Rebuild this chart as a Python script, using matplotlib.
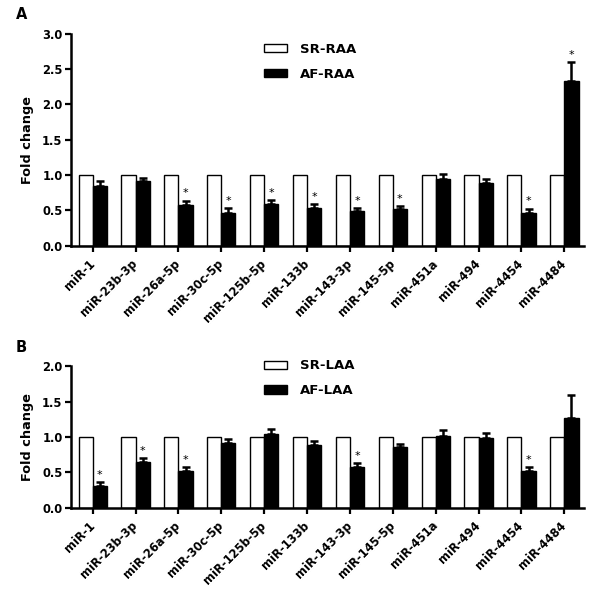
import numpy as np
import matplotlib
matplotlib.use('Agg')
import matplotlib.pyplot as plt

plt.rcParams['font.family'] = ['DejaVu Sans']
plt.rcParams['font.weight'] = 'bold'

# miRNA names shared by both panels
mirnas = ['miR-1', 'miR-23b-3p', 'miR-26a-5p', 'miR-30c-5p', 'miR-125b-5p',
          'miR-133b', 'miR-143-3p', 'miR-145-5p', 'miR-451a', 'miR-494',
          'miR-4454', 'miR-4484']

# Panel A: right atrial appendage
sr_raa = [1.0] * 12
af_raa = [0.85, 0.915, 0.575, 0.46, 0.585, 0.54, 0.49, 0.515, 0.945, 0.885, 0.465, 2.335]
af_raa_err = [0.06, 0.05, 0.065, 0.07, 0.06, 0.047, 0.048, 0.052, 0.07, 0.057, 0.062, 0.26]
sig_raa = [2, 3, 4, 5, 6, 7, 10, 11]

# Panel B: left atrial appendage
sr_laa = [1.0] * 12
af_laa = [0.303, 0.64, 0.512, 0.915, 1.038, 0.886, 0.569, 0.863, 1.014, 0.981, 0.521, 1.265]
af_laa_err = [0.052, 0.057, 0.057, 0.061, 0.076, 0.062, 0.061, 0.042, 0.081, 0.076, 0.052, 0.323]
sig_laa = [0, 1, 2, 6, 10]

x = np.arange(len(mirnas))
w = 0.33


def draw_panel(ax, ctrl, af, err, sig, labels, ymax, leg_y):
    ax.bar(x - w / 2, ctrl, w, color='white', edgecolor='black', linewidth=1.0, label=labels[0])
    ax.bar(x + w / 2, af, w, color='black', edgecolor='black', linewidth=1.0, label=labels[1])
    ax.errorbar(x + w / 2, af, yerr=[np.zeros(len(err)), err], fmt='none',
                ecolor='black', elinewidth=1.8, capsize=2.8, capthick=1.8)
    for i in sig:
        ax.annotate('*', (x[i] + w / 2, af[i] + err[i]), xytext=(0, 1.5),
                    textcoords='offset points', ha='center', va='bottom',
                    fontsize=8, fontweight='normal')
    ax.set_xlim(-0.51, 11.46)
    ax.set_ylim(0, ymax)
    ax.set_yticks(np.arange(0, ymax + 0.01, 0.5))
    ax.yaxis.set_major_formatter(plt.FormatStrFormatter('%.1f'))
    ax.set_xticks(x)
    ax.set_xticklabels(mirnas, rotation=45, ha='right', va='center',
                       rotation_mode='anchor', fontsize=8.3)
    ax.spines['top'].set_visible(False)
    ax.spines['right'].set_visible(False)
    ax.spines['left'].set_linewidth(1.8)
    ax.spines['bottom'].set_linewidth(1.8)
    ax.tick_params(axis='y', width=1.6, length=4, labelsize=8.3, pad=2)
    ax.tick_params(axis='x', width=1.6, length=4.5, pad=7)
    ax.set_ylabel('Fold change', fontsize=9.3, fontweight='bold', labelpad=6)
    ax.legend(frameon=False, fontsize=9.5, handlelength=1.75, handleheight=0.6,
              handletextpad=1.0, labelspacing=0.9, borderpad=0, borderaxespad=0,
              loc='upper left', bbox_to_anchor=(0.3766, leg_y))


fig = plt.figure(figsize=(6, 5.98), dpi=100)
ax_a = fig.add_axes([0.118, 0.589, 0.8555, 0.3545])
ax_b = fig.add_axes([0.118, 0.1513, 0.8555, 0.2361])

draw_panel(ax_a, sr_raa, af_raa, af_raa_err, sig_raa, ['SR-RAA', 'AF-RAA'], 3.0, 0.957)
draw_panel(ax_b, sr_laa, af_laa, af_laa_err, sig_laa, ['SR-LAA', 'AF-LAA'], 2.0, 1.049)

fig.text(0.036, 0.975, 'A', fontsize=10.5, fontweight='bold', va='center', ha='center')
fig.text(0.036, 0.419, 'B', fontsize=10.5, fontweight='bold', va='center', ha='center')

fig.savefig('out.png', dpi=100)
